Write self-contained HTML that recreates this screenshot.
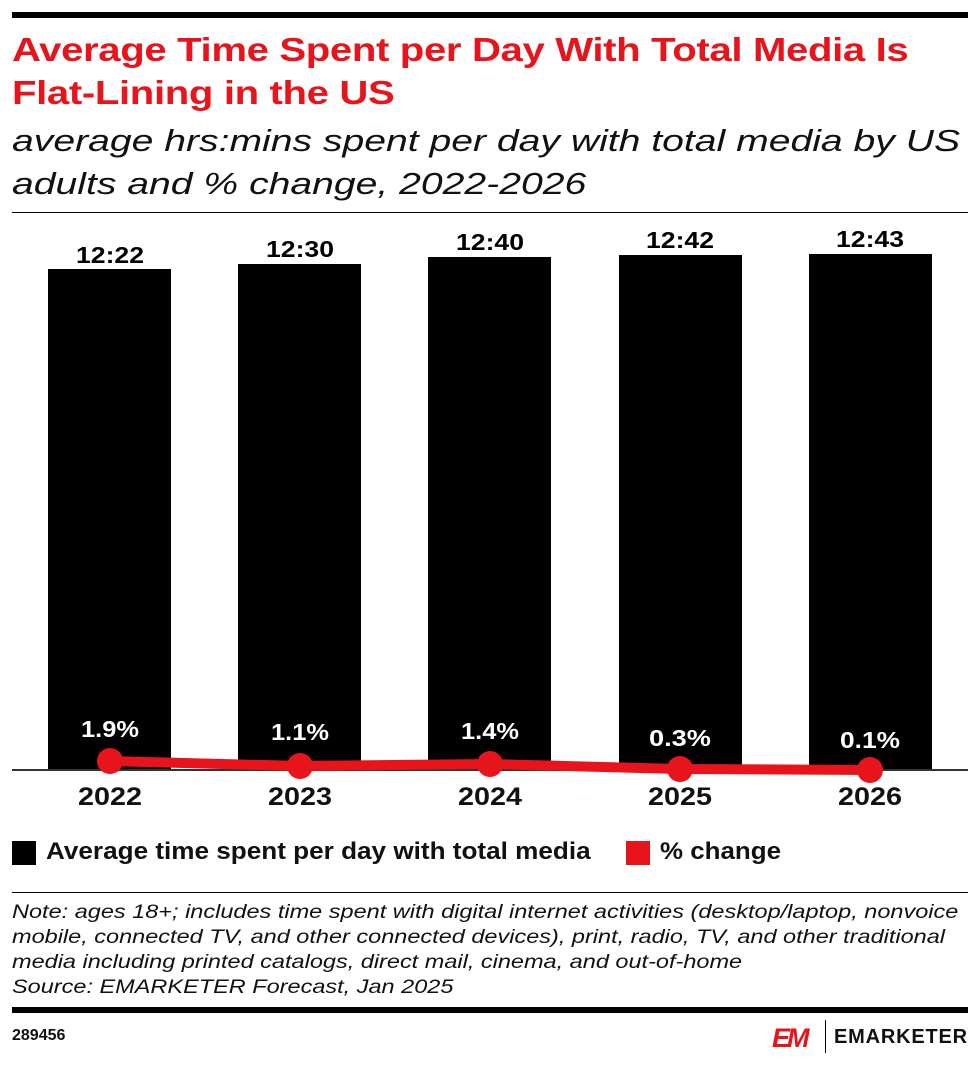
<!DOCTYPE html>
<html><head><style>
body{margin:0;width:980px;height:1065px;background:#fff;font-family:"Liberation Sans",sans-serif;position:relative;overflow:hidden}
.a{position:absolute;transform-origin:0 0;white-space:nowrap}
</style></head><body>
<div class="a" style="left:12px;top:12px;width:956px;height:6px;background:#000"></div>
<div class="a" style="left:12px;top:28px;font-size:33px;font-weight:bold;color:#e8141c;line-height:43px;letter-spacing:-0.3px;transform:scaleX(1.216)">Average Time Spent per Day With Total Media Is<br>Flat-Lining in the US</div>
<div class="a" style="left:12px;top:119px;font-size:31px;font-style:italic;color:#111;line-height:43px;transform:scaleX(1.262)">average hrs:mins spent per day with total media by US<br>adults and % change, 2022-2026</div>
<div class="a" style="left:12px;top:212px;width:956px;height:1px;background:#000"></div>
<svg class="a" style="left:0;top:0" width="980" height="830">
<g fill="#000">
<rect x="48" y="269" width="123" height="501"/>
<rect x="238" y="264" width="123" height="506"/>
<rect x="428" y="257" width="123" height="513"/>
<rect x="619" y="255" width="123" height="515"/>
<rect x="809" y="254" width="123" height="516"/>
</g>
<rect x="12" y="769" width="956" height="2" fill="#333"/>
<g font-family="Liberation Sans" font-weight="bold" font-size="23" text-anchor="middle" fill="#000" lengthAdjust="spacingAndGlyphs">
<text x="110" y="263" textLength="68" lengthAdjust="spacingAndGlyphs">12:22</text><text x="300" y="257" textLength="68" lengthAdjust="spacingAndGlyphs">12:30</text><text x="490" y="250" textLength="68" lengthAdjust="spacingAndGlyphs">12:40</text><text x="680" y="248" textLength="68" lengthAdjust="spacingAndGlyphs">12:42</text><text x="870" y="247" textLength="68" lengthAdjust="spacingAndGlyphs">12:43</text>
</g>
<g font-family="Liberation Sans" font-weight="bold" font-size="23" text-anchor="middle" fill="#fff">
<text x="110" y="737" textLength="58" lengthAdjust="spacingAndGlyphs">1.9%</text><text x="300" y="740" textLength="58" lengthAdjust="spacingAndGlyphs">1.1%</text><text x="490" y="739" textLength="58" lengthAdjust="spacingAndGlyphs">1.4%</text><text x="680" y="746" textLength="62" lengthAdjust="spacingAndGlyphs">0.3%</text><text x="870" y="748" textLength="60" lengthAdjust="spacingAndGlyphs">0.1%</text>
</g>
<polyline points="110,761 300,766 490,764 680,769 870,770" fill="none" stroke="#e8141c" stroke-width="10"/>
<g fill="#e8141c"><circle cx="110" cy="761" r="13"/><circle cx="300" cy="766" r="13"/><circle cx="490" cy="764" r="13"/><circle cx="680" cy="769" r="13"/><circle cx="870" cy="770" r="13"/></g>
<g font-family="Liberation Sans" font-weight="bold" font-size="25" text-anchor="middle" fill="#111">
<text x="110" y="805" textLength="64" lengthAdjust="spacingAndGlyphs">2022</text><text x="300" y="805" textLength="64" lengthAdjust="spacingAndGlyphs">2023</text><text x="490" y="805" textLength="64" lengthAdjust="spacingAndGlyphs">2024</text><text x="680" y="805" textLength="64" lengthAdjust="spacingAndGlyphs">2025</text><text x="870" y="805" textLength="64" lengthAdjust="spacingAndGlyphs">2026</text>
</g>
</svg>
<div class="a" style="left:12px;top:841px;width:24px;height:24px;background:#000"></div>
<div class="a" style="left:46px;top:838px;font-size:24px;font-weight:bold;color:#111;transform:scaleX(1.088)">Average time spent per day with total media</div>
<div class="a" style="left:626px;top:841px;width:24px;height:24px;background:#e8141c"></div>
<div class="a" style="left:660px;top:838px;font-size:24px;font-weight:bold;color:#111;transform:scaleX(1.08)">% change</div>
<div class="a" style="left:12px;top:892px;width:956px;height:1px;background:#000"></div>
<div class="a" style="left:12px;top:900px;font-size:19.5px;font-style:italic;color:#111;line-height:25px;transform:scaleX(1.205)">Note: ages 18+; includes time spent with digital internet activities (desktop/laptop, nonvoice<br>mobile, connected TV, and other connected devices), print, radio, TV, and other traditional<br>media including printed catalogs, direct mail, cinema, and out-of-home<br>Source: EMARKETER Forecast, Jan 2025</div>
<div class="a" style="left:12px;top:1007px;width:956px;height:6px;background:#000"></div>
<div class="a" style="left:12px;top:1027px;font-size:16px;font-weight:bold;color:#111">289456</div>
<div class="a" style="left:772px;top:1023px;font-size:27px;font-weight:900;color:#e8141c;letter-spacing:-3px;font-style:italic">EM</div>
<div class="a" style="left:825px;top:1020px;width:1px;height:33px;background:#000"></div>
<div class="a" style="left:834px;top:1026px;font-size:20px;font-weight:bold;color:#111;letter-spacing:0.8px">EMARKETER</div>
</body></html>
